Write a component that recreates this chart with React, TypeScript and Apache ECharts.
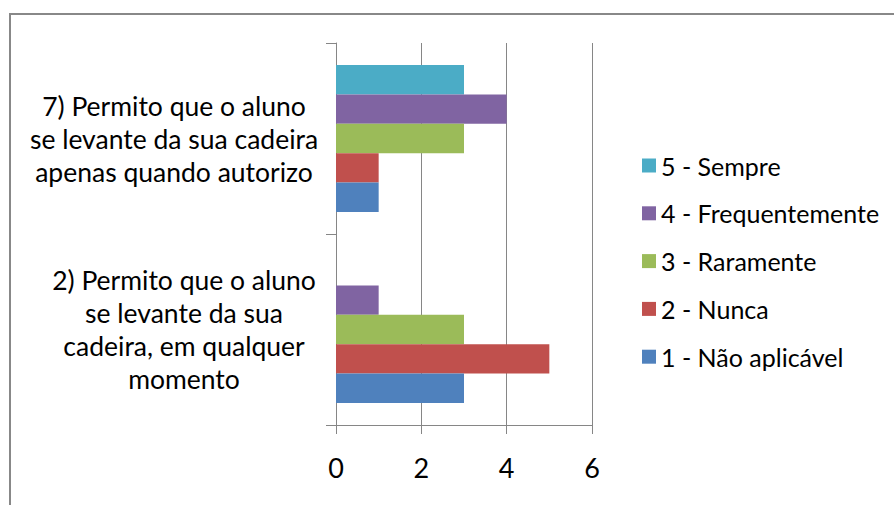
import React, { useEffect, useRef } from "react";
import * as echarts from "echarts";

const categories = [
  "2) Permito que o aluno\nse levante da sua\ncadeira, em qualquer\nmomento",
  "7) Permito que o aluno\nse levante da sua cadeira\napenas quando autorizo",
];
const seriesNames = [
  "1 - Não aplicável",
  "2 - Nunca",
  "3 - Raramente",
  "4 - Frequentemente",
  "5 - Sempre",
];
const naoAplicavel = [3, 1];
const nunca = [5, 1];
const raramente = [3, 3];
const frequentemente = [1, 4];
const sempre = [0, 3];
const xTicks = [0, 2, 4, 6];

const colors = ["#4F81BD", "#C0504D", "#9BBB59", "#8064A2", "#4BACC6"];
const FONT = 'Lato, "Open Sans", sans-serif';
const GRAY = "#868686";

export default function App() {
  const ref = useRef<HTMLDivElement>(null);
  useEffect(() => {
    if (!ref.current) return;
    const chart = echarts.init(ref.current, undefined, { renderer: "svg" });
    const values = [naoAplicavel, nunca, raramente, frequentemente, sempre];
    // ECharts stacks horizontal groups top-down in series order, so feed them reversed
    const order = [4, 3, 2, 1, 0];
    chart.setOption({
      animation: false,
      backgroundColor: "#ffffff",
      textStyle: { fontFamily: FONT },
      grid: { left: 336, right: 302, top: 43, bottom: 80, containLabel: false },
      graphic: [
        {
          type: "rect",
          shape: { x: 10, y: 14, width: 900, height: 510 },
          style: { fill: "none", stroke: "#888888", lineWidth: 2 },
          silent: true,
        },
      ],
      legend: {
        orient: "vertical",
        left: 642,
        top: 153,
        padding: 0,
        itemWidth: 14,
        itemHeight: 14,
        itemGap: 22.8,
        icon: "rect",
        data: [...seriesNames].reverse(),
        textStyle: { fontFamily: FONT, fontSize: 25, color: "#000" },
      },
      xAxis: {
        type: "value",
        min: xTicks[0],
        max: xTicks[xTicks.length - 1],
        interval: 2,
        axisLine: { show: true, lineStyle: { color: GRAY, width: 1 } },
        axisTick: { show: true, length: 9, lineStyle: { color: GRAY } },
        splitLine: { show: true, lineStyle: { color: GRAY, width: 1 } },
        axisLabel: { fontFamily: FONT, fontSize: 27, color: "#000", margin: 28, lineHeight: 28 },
      },
      yAxis: {
        type: "category",
        data: categories,
        axisLine: { show: true, lineStyle: { color: GRAY, width: 1 } },
        axisTick: { show: true, length: 10, lineStyle: { color: GRAY } },
        axisLabel: {
          fontFamily: FONT,
          fontSize: 26.5,
          color: "#000",
          lineHeight: 33,
          align: "center",
          margin: 162,
          formatter: (v: string, i: number) =>
            v
              .split("\n")
              .map((l) => (i === 0 ? `{b|${l}}` : `{a|${l}}`))
              .join("\n"),
          rich: {
            a: { fontFamily: FONT, fontSize: 26.5, color: "#000", lineHeight: 33 },
            b: { fontFamily: FONT, fontSize: 26.5, color: "#000", lineHeight: 33, padding: [0, 0, 0, 20] },
          },
        },
      },
      series: order.map((i) => ({
        name: seriesNames[i],
        type: "bar",
        data: values[i],
        barGap: 0,
        barCategoryGap: "23%",
        itemStyle: { color: colors[i] },
      })),
    });
    return () => chart.dispose();
  }, []);
  return (
    <div
      ref={ref}
      style={{ position: "fixed", left: 0, top: 0, width: 894, height: 505 }}
    />
  );
}
